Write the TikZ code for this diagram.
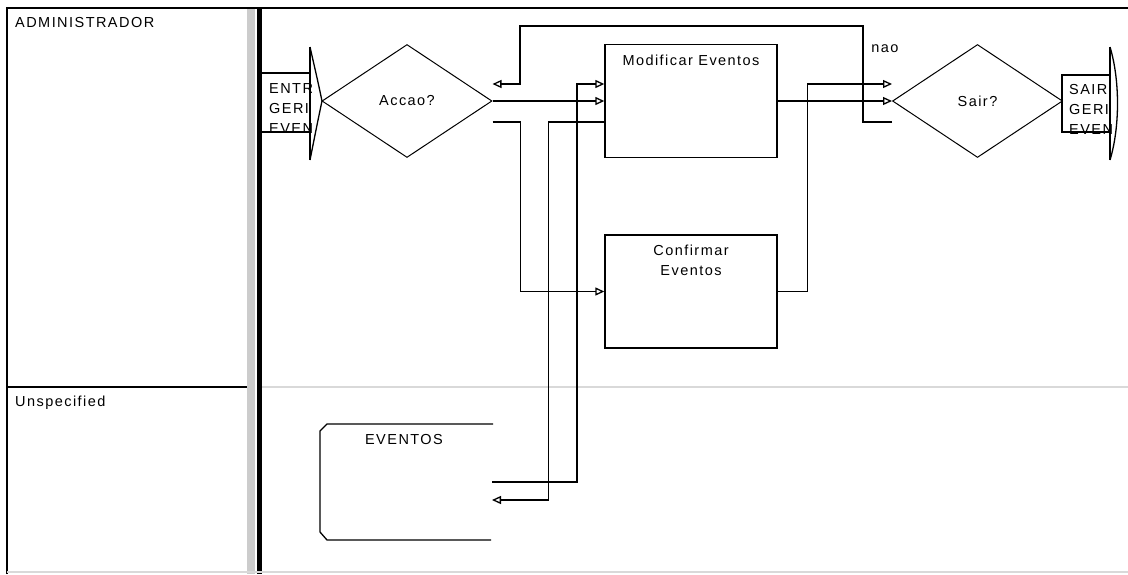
\documentclass[tikz,border=0pt]{standalone}
\usepackage{fontspec}
\setmainfont{Liberation Sans}[LetterSpace=10]
\usetikzlibrary{shapes.geometric, positioning, arrows.meta}

\tikzset{
  proc/.style={draw, line width=1.4pt, minimum width=172pt, minimum height=113pt, inner sep=0pt},
  decision/.style={diamond, draw, line width=1pt, minimum width=170pt, minimum height=113pt, inner sep=0pt},
  flow/.style={line width=1.3pt, -{Triangle[open, length=9pt, width=8pt]}},
  link/.style={line width=1.3pt},
  lanetext/.style={anchor=west, inner sep=0pt}
}

\begin{document}
\begin{tikzpicture}[x=1pt, y=-1pt, font=\fontsize{14.5}{20}\selectfont]
            \useasboundingbox (0,0) rectangle (1128,574);
            \fill[gray!40] (247,8) rectangle (255,574);
            \fill (257,8) rectangle (262,574);
            \draw[line width=1.5pt] (7,574) -- (7,8) -- (1128,8);
            \draw[line width=1.8pt] (7,387) -- (247,387);
            \draw[gray!30, line width=1.5pt] (262,387) -- (1128,387);
            \draw[gray!30, line width=1.5pt] (7,572) -- (1128,572);
            \node[lanetext] (admin) at (15,23) {ADMINISTRADOR};
            \node[lanetext] (unsp) at (15,403) {Unspecified};

            \node[decision] (accao) at (407,101) {Accao?};
            \node[proc, label={[anchor=north, yshift=-8pt]north:Modificar Eventos}] (mod) at (691,101) {};
            \node[proc, label={[anchor=north, align=center, yshift=-7pt]north:Confirmar\\Eventos}] (conf) at (691,291.5) {};
            \node[decision] (sair) at (977.5,101) {Sair?};
            \node (nao) at (885,49) {nao};

            \draw[link] (262,73) -- (310,73) (262,132) -- (310,132) (310,47) -- (310,160);
            \draw[link] (310,47) .. controls (318,82) .. (322,101) .. controls (318,120) .. (310,160);
            \begin{scope}
              \clip (262,40) rectangle (311,170);
              \node[lanetext, align=left] (entr) at (269,109) {ENTR\\GERI\\EVEN};
            \end{scope}

            \draw[link] (1110,75) -- (1062,75) -- (1062,132) -- (1110,132) (1110,47) -- (1110,160);
            \draw[link] (1110,47) .. controls (1120,80) and (1120,127) .. (1110,160);
            \begin{scope}
              \clip (1062,40) rectangle (1111,170);
              \node[lanetext, align=left] (saida) at (1069,109) {SAIR\\GERI\\EVEN};
            \end{scope}

            \draw[link] (493,424) -- (327,424) -- (320,431) -- (320,532) -- (327,540) -- (491,540);
            \node (ev) at (404,440) {EVENTOS};
            \coordinate (evout) at (492,482);
            \coordinate (evin) at (492,500);

            \path[flow]
            (accao) edge (mod)
            (mod) edge (sair);
            \draw[flow] ([yshift=-21pt]accao.east) -- ++(28,0) |- (conf.west);
            \draw[flow] (conf.east) -- ++(30,0) |- ([yshift=17pt]sair.west);
            \draw[flow] ([yshift=-21pt]sair.west) -- ++(-29,0) |- (520,26) |- ([yshift=17pt]accao.east);
            \draw[flow] (evout) -- ++(85,0) |- ([yshift=17pt]mod.west);
            \draw[flow] ([yshift=-21pt]mod.west) -- ++(-56,0) |- (evin);
        \end{tikzpicture}
\end{document}
